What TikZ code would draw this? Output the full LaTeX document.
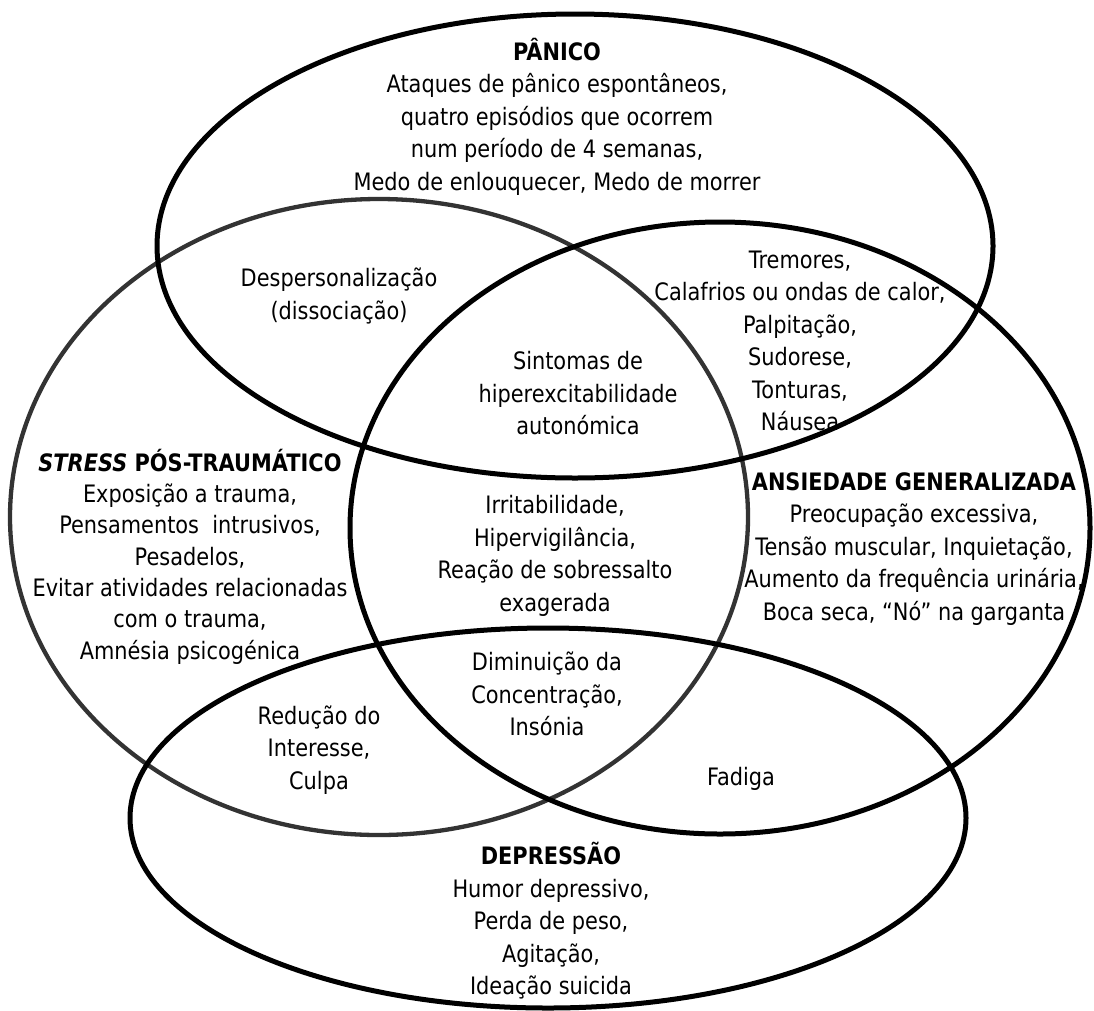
\documentclass[tikz,border=0pt]{standalone}
\usepackage{fontspec}
\setmainfont{DejaVu Sans}[FakeStretch=0.87, BoldFont={DejaVu Sans Bold}, ItalicFont={DejaVu Sans Oblique}, BoldItalicFont={DejaVu Sans Bold Oblique}]
\definecolor{stressgray}{HTML}{333333}
\tikzset{
  venn/.style={line width=5pt, draw=black},
  vennstress/.style={line width=4.3pt, draw=stressgray},
  txt/.style={align=center, inner sep=0pt, font=\fontsize{24}{32.5}\selectfont},
  txttight/.style={align=center, inner sep=0pt, font=\fontsize{24}{31.3}\selectfont},
}
\begin{document}
\begin{tikzpicture}[x=1pt,y=-1pt]
\useasboundingbox (0,0) rectangle (1094,1010);
% ellipses
\draw[vennstress] (379,517) ellipse [x radius=369pt, y radius=318pt];
\draw[venn] (575,246) ellipse [x radius=418pt, y radius=232pt];
\draw[venn] (720,528) ellipse [x radius=370pt, y radius=306pt];
\draw[venn] (548,818) ellipse [x radius=418pt, y radius=190pt];
% texts
\node[txt] (panico) at (557,116.5) {\textbf{PÂNICO}\\Ataques de pânico espontâneos,\\quatro episódios que ocorrem\\num período de 4 semanas,\\Medo de enlouquecer, Medo de morrer};
\node[txt] (despers) at (339,296) {Despersonalização\\(dissociação)};
\node[txt] (tremores) at (800,341) {Tremores,\\Calafrios ou ondas de calor,\\Palpitação,\\Sudorese,\\Tonturas,\\Náusea};
\node[txt] (sintomas) at (578,393.5) {Sintomas de\\hiperexcitabilidade\\autonómica};
\node[txttight] (stress) at (190,556.5) {\textbf{\textit{STRESS} PÓS-TRAUMÁTICO}\\Exposição a trauma,\\Pensamentos~ intrusivos,\\Pesadelos,\\Evitar atividades relacionadas\\com o trauma,\\Amnésia psicogénica};
\node[txt] (ansiedade) at (914,549) {\textbf{ANSIEDADE GENERALIZADA}\\Preocupação excessiva,\\Tensão muscular, Inquietação,\\Aumento da frequência urinária,\\Boca seca, “Nó” na garganta};
\node[txt] (irrit) at (555,556) {Irritabilidade,\\Hipervigilância,\\Reação de sobressalto\\exagerada};
\node[txt] (dimin) at (547,694) {Diminuição da\\Concentração,\\Insónia};
\node[txt] (reducao) at (319,750) {Redução do\\Interesse,\\Culpa};
\node[txt] (fadiga) at (741,779) {Fadiga};
\node[txt] (depressao) at (551,921) {\textbf{DEPRESSÃO}\\Humor depressivo,\\Perda de peso,\\Agitação,\\Ideação suicida};
\end{tikzpicture}
\end{document}
